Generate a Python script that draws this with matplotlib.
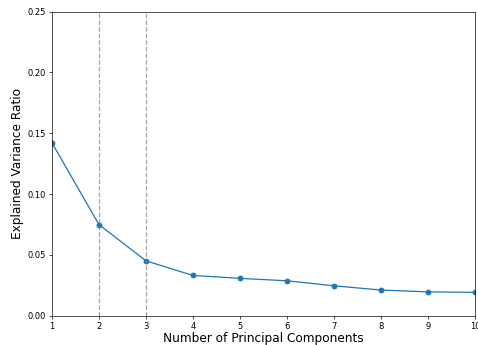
import matplotlib
matplotlib.use("Agg")
import matplotlib.pyplot as plt
import numpy as np

# explained variance ratio per principal component
components = [1, 2, 3, 4, 5, 6, 7, 8, 9, 10]
explained_var = [0.1421, 0.0749, 0.0451, 0.0331, 0.0307, 0.0287, 0.0246, 0.0211, 0.0196, 0.0192]
marked_components = [2, 3]

fig = plt.figure(figsize=(478 / 60, 345 / 60), dpi=60)
ax = fig.add_axes([52 / 478, 29.3 / 345, 423 / 478, 304 / 345])

ax.plot(components, explained_var, marker='o', color='#1f77b4')
for c in marked_components:
    ax.axvline(c, color='gray', linestyle='--', alpha=0.7)

ax.set_xlim(1, 10)
ax.set_ylim(0, 0.25)
ax.set_xticks(components)
ax.set_xlabel('Number of Principal Components', fontsize=14.6, labelpad=1.5)
ax.set_ylabel('Explained Variance Ratio', fontsize=14.6)

fig.savefig('out.png', dpi=60)
